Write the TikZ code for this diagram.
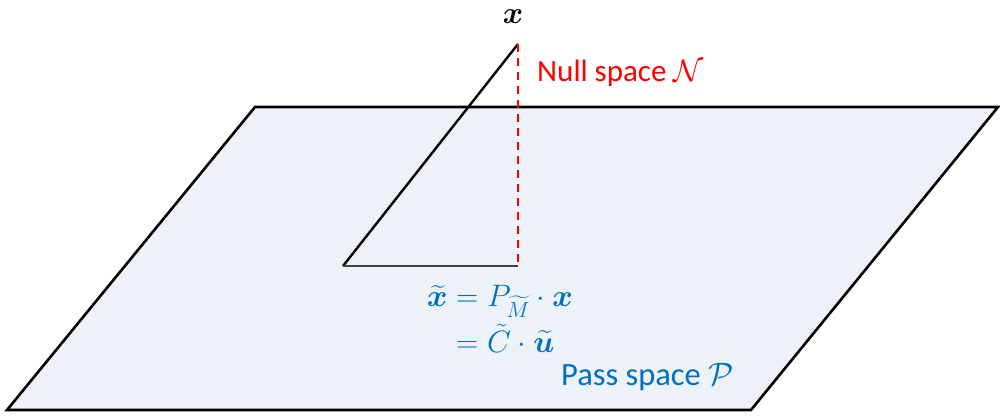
\documentclass[tikz,border=0pt]{standalone}
\usepackage{fix-cm}
\usepackage{amsmath,bm}
\usepackage{fontspec}
\setmainfont{Carlito}
\usetikzlibrary{calc}

\definecolor{nullred}{HTML}{FF0000}
\definecolor{passblue}{HTML}{0070C0}
\definecolor{planefill}{HTML}{EDF2F9}
\definecolor{projgray}{HTML}{404040}

\begin{document}
\begin{tikzpicture}[x=1pt, y=-1pt, line join=miter,
    every node/.style={inner sep=0pt, font=\fontsize{31}{37}\selectfont}]

    % ---- Canvas ----
    \useasboundingbox (0,0) rectangle (1000,417);

    % ---- Parameters ----
    \def\Bx{343}      % foot of the diagonal x
    \def\Fx{518}      % foot of the null-space line x
    \def\Fy{266}      % projection height
    \def\Ty{44}       % tip of x

    \coordinate (bl) at (7,410);
    \coordinate (tl) at (255,107);
    \coordinate (tr) at (998,107);
    \coordinate (br) at (751,410);

    \coordinate (base) at (\Bx,\Fy);
    \coordinate (foot) at (\Fx,\Fy);
    \coordinate (tip)  at (\Fx,\Ty);

    % ---- Pass space (plane) ----
    \filldraw[fill=planefill, draw=black, line width=2.6pt]
        (bl) -- (tl) -- (tr) -- (br) -- cycle;

    % ---- Vector x ----
    \draw[black, line width=2.4pt] (base) -- (tip);

    % ---- Projection onto the plane ----
    \draw[projgray, line width=2.4pt] (base) -- (foot);

    % ---- Null space component (red, dashed) ----
    \draw[nullred, line width=1.8pt, dash pattern=on 8pt off 6pt] (tip) -- (foot);

    % ---- Labels ----
    \node (xlab) at (513,17) {$\bm{x}$};
    \node[nullred, anchor=west] (nulllab) at (537,73) {Null space $\mathcal{N}$};
    \node[passblue] (eqlab) at (500,322)
        {$\begin{aligned}\widetilde{\bm{x}} &= P_{\widetilde{M}}\cdot\bm{x}\\[2pt]
                                           &= \tilde{C}\cdot\widetilde{\bm{u}}\end{aligned}$};
    \node[passblue, anchor=west, font=\fontsize{32.5}{38}\selectfont] (passlab) at (561,377)
        {Pass space $\mathcal{P}$};

\end{tikzpicture}
\end{document}
